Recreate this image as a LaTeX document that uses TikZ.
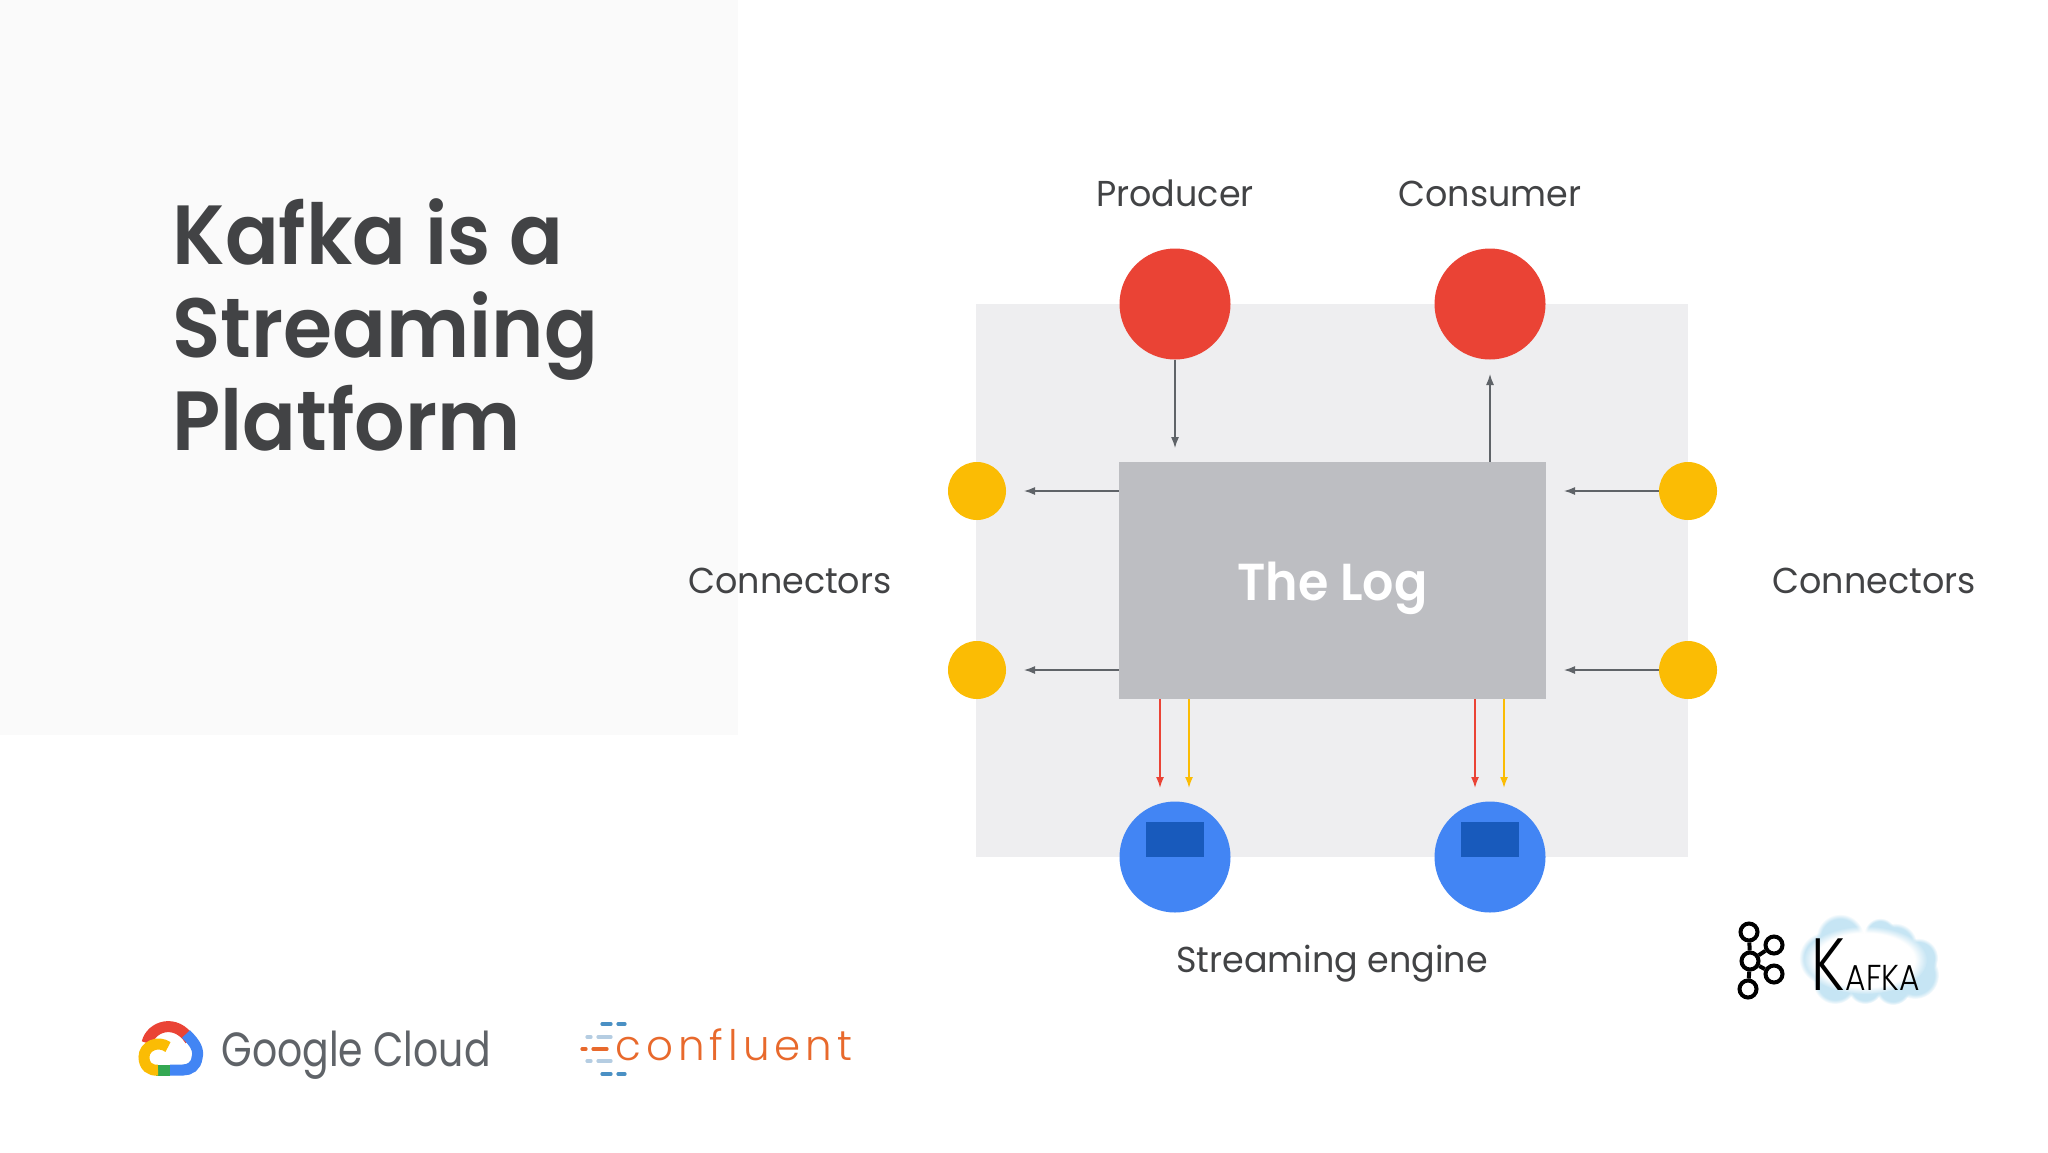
\documentclass[tikz,border=0pt]{standalone}
\usepackage{fontspec}
\usetikzlibrary{positioning,arrows.meta,fadings}
\setmainfont[FakeStretch=0.97]{Poppins}
\newfontfamily\titlefont[FakeStretch=0.945]{Poppins SemiBold}
\newfontfamily\googlefont[FakeStretch=0.82]{Poppins}
\newfontfamily\confluentfont[LetterSpace=12]{Poppins Light}
\newfontfamily\kfont[FakeStretch=0.8]{Poppins Light}
\newfontfamily\narrowfont[FakeStretch=0.87]{Poppins Light}
\definecolor{gred}{HTML}{EA4335}
\definecolor{gyellow}{HTML}{FBBC04}
\definecolor{gblue}{HTML}{4285F4}
\definecolor{gdark}{HTML}{185ABC}
\definecolor{ggreen}{HTML}{34A853}
\definecolor{panelgray}{HTML}{EEEEF0}
\definecolor{loggray}{HTML}{BDBEC2}
\definecolor{textgray}{HTML}{424345}
\definecolor{arrowgray}{HTML}{5F6368}
\definecolor{cforange}{HTML}{E8692C}
\definecolor{cfblue}{HTML}{4A90C4}
\definecolor{cflight}{HTML}{B5CDE2}
\definecolor{skyblue}{HTML}{C6E5F4}

\begin{document}
\begin{tikzpicture}[
    x=0.5pt, y=-0.5pt,
    dot/.style={circle, inner sep=0pt, minimum size=#1},
    label text/.style={text=textgray, font=\fontsize{18}{22}\selectfont, inner sep=0pt},
    flow/.style={draw=arrowgray, line width=0.65pt, -{Latex[length=5.5pt,width=4pt]}},
    red flow/.style={draw=gred, line width=0.85pt, -{Latex[length=5.5pt,width=4pt]}},
    yellow flow/.style={draw=gyellow, line width=0.85pt, -{Latex[length=5.5pt,width=4pt]}},
    logo ring/.style={draw=black, line width=2pt, circle, inner sep=0pt, minimum size=8.5pt},
    blob/.style={fill=skyblue, path fading=circle with fuzzy edge 20 percent}
]
    \useasboundingbox (0,0) rectangle (2048,1152);
    \fill[white] (0,0) rectangle (2048,1152);

    % Backgrounds
    \fill[black!2] (0,0) rectangle (738,735);
    \fill[panelgray] (976,304) rectangle (1688,857);

    % Title
    \node[anchor=north west, inner sep=0pt, align=left, text=textgray,
        font=\titlefont\fontsize{42}{46.5}\selectfont] (title) at (172,198)
        {Kafka is a\\Streaming\\Platform};

    % Log
    \node[fill=loggray, minimum width=213.5pt, minimum height=118.5pt, inner sep=0pt] (log) at (1332.5,580.5) {};
    \node[text=white, inner sep=0pt, font=\titlefont\fontsize{26}{30}\selectfont] (logname) at (1332.5,588.5) {The Log};

    % Producer, consumer
    \node[dot=55.5pt, fill=gred] (producer) at (1175,304) {};
    \node[dot=55.5pt, fill=gred] (consumer) at (1490,304) {};
    \node[label text, above=20.5pt of producer] (producerlabel) {Producer};
    \node[label text, above=20.5pt of consumer] (consumerlabel) {Consumer};

    % Connectors
    \node[dot=29pt, fill=gyellow] (connL1) at (977,491) {};
    \node[dot=29pt, fill=gyellow] (connL2) at (977,670) {};
    \node[dot=29pt, fill=gyellow] (connR1) at (1688,491) {};
    \node[dot=29pt, fill=gyellow] (connR2) at (1688,670) {};
    \node[label text] (connLlabel) at (790,581) {Connectors};
    \node[label text] (connRlabel) at (1874,581) {Connectors};

    % Streaming engine
    \node[dot=55.5pt, fill=gblue] (engine1) at (1175,857) {};
    \node[dot=55.5pt, fill=gblue] (engine2) at (1490,857) {};
    \node[fill=gdark, minimum width=29pt, minimum height=17.5pt, inner sep=0pt] (box1) at (1175,839.5) {};
    \node[fill=gdark, minimum width=29pt, minimum height=17.5pt, inner sep=0pt] (box2) at (1490,839.5) {};
    \node[label text] (enginelabel) at (1332,964) {Streaming engine};

    % Free ends of the arrows
    \coordinate (inP) at (1175,448);
    \coordinate (outC) at (1490,374);
    \coordinate (outL1) at (1024,491);
    \coordinate (outL2) at (1024,670);
    \coordinate (inR1) at (1564,491);
    \coordinate (inR2) at (1564,670);
    \coordinate (redA) at (1160,788);
    \coordinate (yellowA) at (1189,788);
    \coordinate (redB) at (1475,788);
    \coordinate (yellowB) at (1504,788);

    \draw[flow] (producer) -- (inP);
    \draw[flow] (log.north -| outC) -- (outC);
    \draw[flow] (log.west |- outL1) -- (outL1);
    \draw[flow] (log.west |- outL2) -- (outL2);
    \draw[flow] (connR1) -- (inR1);
    \draw[flow] (connR2) -- (inR2);
    \draw[red flow] (log.south -| redA) -- (redA);
    \draw[yellow flow] (log.south -| yellowA) -- (yellowA);
    \draw[red flow] (log.south -| redB) -- (redB);
    \draw[yellow flow] (log.south -| yellowB) -- (yellowB);

    % Google Cloud logo
    \draw[gred, line width=5.5pt] (147,1043) .. controls (151,1026) and (176,1018) .. (190,1040);
    \draw[gblue, line width=5.5pt] (186,1034) .. controls (196,1044) and (199,1050) .. (197,1058)
        .. controls (196,1066) and (190,1070) .. (183,1070) -- (170,1070);
    \draw[ggreen, line width=5.5pt] (170,1070) -- (156,1070);
    \draw[gyellow, line width=5.5pt] (168,1047) .. controls (158,1040) and (144,1046) .. (144,1057)
        .. controls (144,1066) and (150,1071) .. (158,1070);
    \node[anchor=base west, inner sep=0pt, text=arrowgray, font=\googlefont\fontsize{24}{28}\selectfont] (googletext) at (221,1066) {Google Cloud};

    % Confluent logo
    \draw[cfblue, line width=1.6pt, line cap=round] (602,1024) -- (611,1024) (618,1024) -- (625,1024)
        (602,1074) -- (611,1074) (618,1074) -- (625,1074);
    \draw[cflight, line width=1.6pt, line cap=round] (587,1037) -- (591,1037) (598,1037) -- (611,1037)
        (587,1061) -- (591,1061) (598,1061) -- (611,1061);
    \draw[cforange, line width=1.6pt, line cap=round] (582,1049) -- (586,1049) (593,1049) -- (607,1049);
    \node[anchor=base west, inner sep=0pt, text=cforange, font=\confluentfont\fontsize{21}{24}\selectfont] (confluenttext) at (615,1060) {confluent};

    % Kafka logo
    \node[logo ring] (ringtop) at (1749,932) {};
    \node[logo ring] (ringmid) at (1750,961) {};
    \node[logo ring] (ringlow) at (1748,989) {};
    \node[logo ring] (ringa) at (1774,945) {};
    \node[logo ring] (ringb) at (1774,974) {};
    \draw[black, line width=2pt] (ringtop) -- (ringmid) (ringmid) -- (ringlow) (ringmid) -- (ringa) (ringmid) -- (ringb);

    % Cloud behind the name
    \fill[blob] (1825,958) circle[radius=26];
    \fill[blob] (1840,938) circle[radius=24];
    \fill[blob] (1835,982) circle[radius=22];
    \fill[blob] (1865,986) circle[radius=18];
    \fill[blob] (1893,987) circle[radius=18];
    \fill[blob] (1915,975) circle[radius=24];
    \fill[blob] (1918,958) circle[radius=20];
    \fill[blob] (1895,945) circle[radius=22];
    \fill[blob] (1880,934) circle[radius=16];
    \fill[white, path fading=circle with fuzzy edge 20 percent] (1865,960) ellipse[x radius=62, y radius=34];
    \node[anchor=base west, inner sep=0pt, font=\kfont\fontsize{37}{40}\selectfont] (kafkak) at (1811,990) {K};
    \node[inner sep=0pt, font=\narrowfont\fontsize{18}{20}\selectfont, right=0pt of kafkak.base east, anchor=base west] (kafkarest) {AFKA};
\end{tikzpicture}
\end{document}
